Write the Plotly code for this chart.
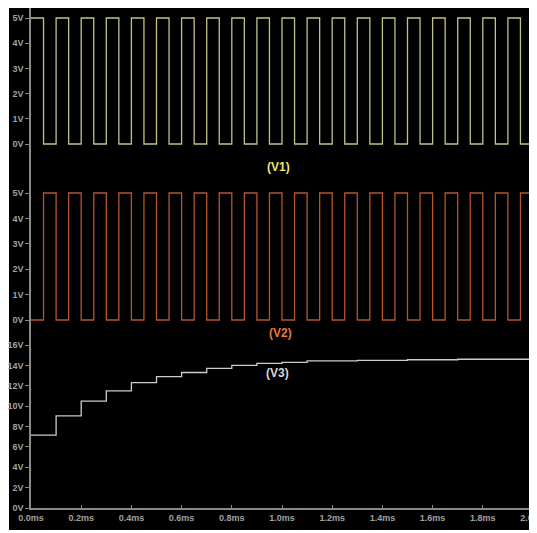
import plotly.graph_objects as go

# ---- data ----
t_sq = [0.00, 0.05, 0.10, 0.15, 0.20, 0.25, 0.30, 0.35, 0.40, 0.45,
        0.50, 0.55, 0.60, 0.65, 0.70, 0.75, 0.80, 0.85, 0.90, 0.95,
        1.00, 1.05, 1.10, 1.15, 1.20, 1.25, 1.30, 1.35, 1.40, 1.45,
        1.50, 1.55, 1.60, 1.65, 1.70, 1.75, 1.80, 1.85, 1.90, 1.95, 2.00]
v1 = [5, 0, 5, 0, 5, 0, 5, 0, 5, 0,
      5, 0, 5, 0, 5, 0, 5, 0, 5, 0,
      5, 0, 5, 0, 5, 0, 5, 0, 5, 0,
      5, 0, 5, 0, 5, 0, 5, 0, 5, 0, 0]
v2 = [0, 5, 0, 5, 0, 5, 0, 5, 0, 5,
      0, 5, 0, 5, 0, 5, 0, 5, 0, 5,
      0, 5, 0, 5, 0, 5, 0, 5, 0, 5,
      0, 5, 0, 5, 0, 5, 0, 5, 0, 5, 5]
t_v3 = [0.0, 0.1, 0.2, 0.3, 0.4, 0.5, 0.6, 0.7, 0.8, 0.9, 1.0,
        1.1, 1.2, 1.3, 1.4, 1.5, 1.6, 1.7, 1.8, 1.9, 2.0]
v3 = [7.15, 9.05, 10.5, 11.5, 12.3, 12.9, 13.3, 13.7, 14.0, 14.2, 14.3,
      14.45, 14.45, 14.5, 14.5, 14.55, 14.55, 14.6, 14.6, 14.6, 14.6]

x_tickvals = [0.0, 0.2, 0.4, 0.6, 0.8, 1.0, 1.2, 1.4, 1.6, 1.8, 2.0]
x_ticktext = ["0.0ms", "0.2ms", "0.4ms", "0.6ms", "0.8ms", "1.0ms",
              "1.2ms", "1.4ms", "1.6ms", "1.8ms", "2.0ms"]
sq_tickvals = [0, 1, 2, 3, 4, 5]
sq_ticktext = ["0V", "1V", "2V", "3V", "4V", "5V"]
v3_tickvals = [0, 2, 4, 6, 8, 10, 12, 14, 16]
v3_ticktext = ["0V", "2V", "4V", "6V", "8V", "10V", "12V", "14V", "16V"]
labels = ["(V1)", "(V2)", "(V3)"]

# ---- geometry (page has an 8px body margin) ----
OFF = 8
W, H = 537 - OFF, 533 - OFF
L = 31 - OFF          # plot left edge in figure px
T = 8 - OFF           # plot top
PR = 533 - OFF        # plot right
PB = 508 - OFF        # plot bottom
R, B = W - PR, H - PB
pw, ph = PR - L, PB - T
axis_col = "#8a8a8a"
tick_font = dict(family="Liberation Sans, Arial, sans-serif", size=9,
                 color="#a0a0a0", weight="bold")

def fx(ref_px):
    return (ref_px - OFF - L) / pw

def fy(ref_py):
    return (PB - (ref_py - OFF)) / ph

fig = go.Figure()
fig.add_trace(go.Scatter(x=t_sq, y=v1, mode="lines", line_shape="hv",
                         line=dict(color="#c2c288", width=1.3),
                         xaxis="x", yaxis="y", showlegend=False))
fig.add_trace(go.Scatter(x=t_sq, y=v2, mode="lines", line_shape="hv",
                         line=dict(color="#b4562e", width=1.3),
                         xaxis="x", yaxis="y2", showlegend=False))
fig.add_trace(go.Scatter(x=t_v3, y=v3, mode="lines", line_shape="hv",
                         line=dict(color="#cccccc", width=1.3),
                         xaxis="x", yaxis="y3", showlegend=False))

yax_common = dict(showgrid=False, zeroline=False, showline=True,
                  linecolor=axis_col, linewidth=1.5, mirror=True,
                  ticks="outside", ticklen=4, tickcolor=axis_col,
                  tickfont=tick_font, anchor="x", automargin=False)

fig.update_layout(
    width=W, height=H,
    margin=dict(l=L, r=R, t=T, b=B, pad=0),
    paper_bgcolor="white", plot_bgcolor="black",
    xaxis=dict(range=[0, 2.0], tickvals=x_tickvals, ticktext=x_ticktext,
               showgrid=False, zeroline=False, showline=True,
               linecolor=axis_col, linewidth=1.5, ticks="inside",
               ticklen=3, tickcolor=axis_col, tickfont=tick_font,
               ticklabeloverflow="allow",
               anchor="y3", automargin=False),
    yaxis=dict(domain=[fy(170), 1.0], range=[-26 / 25.2, 5 + 10 / 25.2],
               tickvals=sq_tickvals, ticktext=sq_ticktext, **yax_common),
    yaxis2=dict(domain=[fy(340), fy(170)], range=[-20 / 25.4, 5 + 23 / 25.4],
                tickvals=sq_tickvals, ticktext=sq_ticktext, **yax_common),
    yaxis3=dict(domain=[0, fy(340)], range=[0, 16 + 5 / 10.19],
                tickvals=v3_tickvals, ticktext=v3_ticktext, **yax_common),
    shapes=[dict(type="rect", xref="paper", yref="paper",
                 x0=fx(9), x1=fx(545), y0=fy(530), y1=fy(8),
                 fillcolor="black", line=dict(width=0), layer="below")],
    annotations=[
        dict(text=labels[0], x=fx(278), y=fy(158), xref="paper", yref="paper",
             showarrow=False, font=dict(family="Liberation Sans, Arial", size=12,
                                        color="#e8e86a", weight="bold")),
        dict(text=labels[1], x=fx(280), y=fy(333), xref="paper", yref="paper",
             showarrow=False, font=dict(family="Liberation Sans, Arial", size=12,
                                        color="#e8783a", weight="bold")),
        dict(text=labels[2], x=fx(277), y=fy(382), xref="paper", yref="paper",
             showarrow=False, font=dict(family="Liberation Sans, Arial", size=12,
                                        color="#d8d8d8", weight="bold")),
    ],
)

fig.write_html("out.html")
